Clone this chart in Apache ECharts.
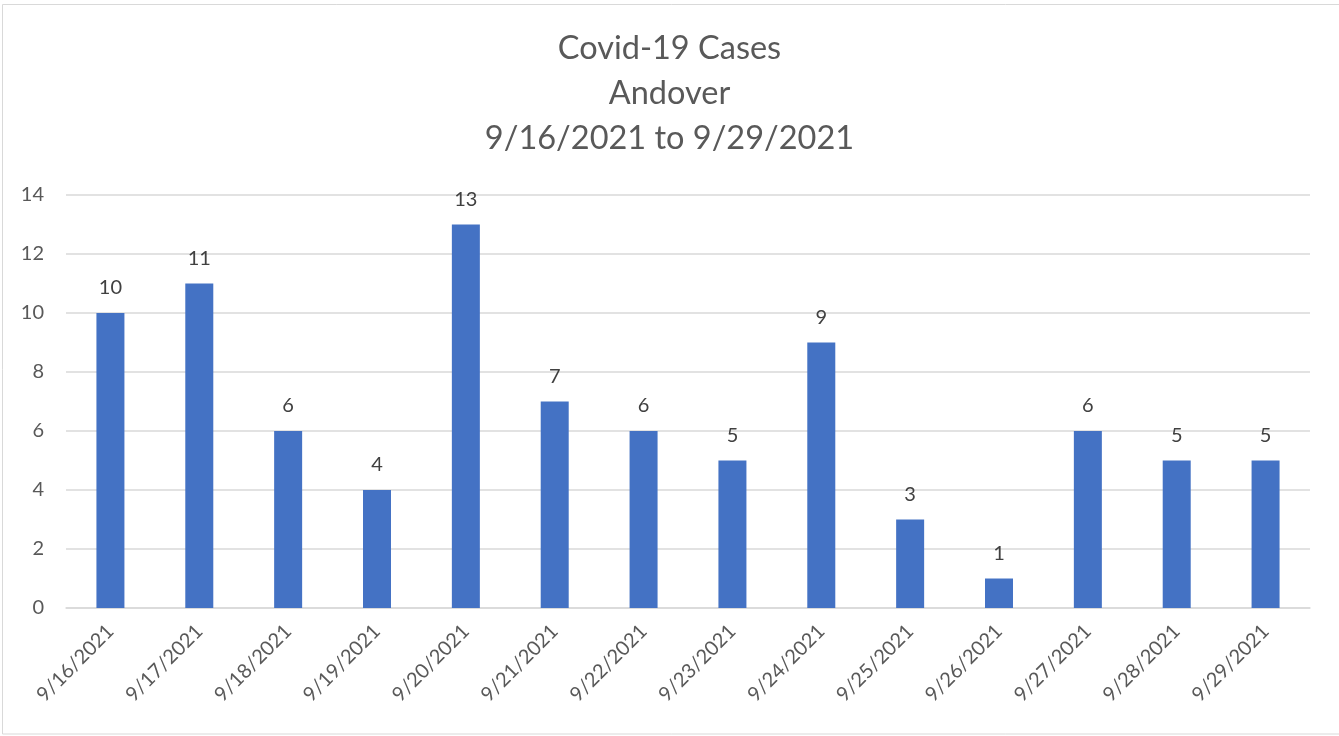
<!DOCTYPE html>
<html>
<head>
<meta charset="utf-8">
<script src="https://cdn.jsdelivr.net/npm/echarts@6/dist/echarts.min.js"></script>
<style>
  html, body { margin: 0; padding: 0; background: #fff; }
  #chart { width: 1339px; height: 736px; }
</style>
</head>
<body>
<div id="chart"></div>
<script>
// data
var dates = ['9/16/2021', '9/17/2021', '9/18/2021', '9/19/2021', '9/20/2021', '9/21/2021', '9/22/2021',
  '9/23/2021', '9/24/2021', '9/25/2021', '9/26/2021', '9/27/2021', '9/28/2021', '9/29/2021'];
var cases = [10, 11, 6, 4, 13, 7, 6, 5, 9, 3, 1, 6, 5, 5];
var titleLines = ['Covid-19 Cases', 'Andover', '9/16/2021 to 9/29/2021'];

var font = 'Lato, "Open Sans", sans-serif';
var textColor = '#595959';

var myChart = echarts.init(document.getElementById('chart'));
var option = {
  animation: false,
  graphic: [{
    type: 'rect',
    shape: { x: 2.5, y: 4.5, width: 1340, height: 729.5 },
    style: { fill: 'none', stroke: '#d9d9d9', lineWidth: 1 },
    silent: true
  }],
  title: {
    text: titleLines.join('\n'),
    left: 'center',
    top: 21,
    textStyle: {
      color: textColor,
      fontFamily: font,
      fontSize: 32.5,
      fontWeight: 'normal',
      lineHeight: 45
    }
  },
  grid: {
    left: 66,
    right: 29,
    top: 195,
    bottom: 128,
    containLabel: false
  },
  xAxis: {
    type: 'category',
    data: dates,
    axisTick: { show: false },
    axisLine: { lineStyle: { color: '#d9d9d9', width: 1.5 } },
    axisLabel: {
      rotate: 45,
      interval: 0,
      margin: 20,
      color: textColor,
      fontFamily: font,
      fontSize: 20
    }
  },
  yAxis: {
    type: 'value',
    min: 0,
    max: 14,
    interval: 2,
    axisLine: { show: false },
    axisTick: { show: false },
    splitLine: { lineStyle: { color: '#d9d9d9', width: 1.5 } },
    axisLabel: {
      margin: 22,
      color: textColor,
      fontFamily: font,
      fontSize: 20
    }
  },
  series: [{
    type: 'bar',
    data: cases,
    barWidth: 28,
    itemStyle: { color: '#4472C4' },
    label: {
      show: true,
      position: 'top',
      distance: 15,
      color: '#404040',
      fontFamily: font,
      fontSize: 20
    }
  }]
};
myChart.setOption(option);
</script>
</body>
</html>
